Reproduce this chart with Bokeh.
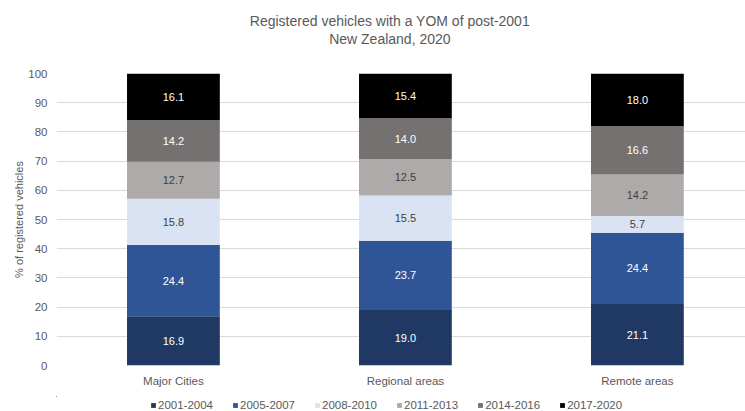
from bokeh.plotting import figure
from bokeh.models import (ColumnDataSource, Range1d, FixedTicker, Legend, LegendItem, Label)
from bokeh.layouts import column
from bokeh.core.properties import value
from bokeh.embed import file_html
from bokeh.resources import INLINE

categories = ["Major Cities", "Regional areas", "Remote areas"]
series_names = ["2001-2004", "2005-2007", "2008-2010", "2011-2013", "2014-2016", "2017-2020"]
s_2001_2004 = [16.9, 19.0, 21.1]
s_2005_2007 = [24.4, 23.7, 24.4]
s_2008_2010 = [15.8, 15.5, 5.7]
s_2011_2013 = [12.7, 12.5, 14.2]
s_2014_2016 = [14.2, 14.0, 16.6]
s_2017_2020 = [16.1, 15.4, 18.0]
y_ticks = [0, 10, 20, 30, 40, 50, 60, 70, 80, 90, 100]
title_line1 = "Registered vehicles with a YOM of post-2001"
title_line2 = "New Zealand, 2020"
y_label = "% of registered vehicles"

series_values = [s_2001_2004, s_2005_2007, s_2008_2010, s_2011_2013, s_2014_2016, s_2017_2020]
colors = ["#1f3864", "#2f5597", "#dae3f3", "#aeaaaa", "#767171", "#000000"]
label_colors = ["#ffffff", "#ffffff", "#404040", "#404040", "#ffffff", "#ffffff"]

FONT = "Liberation Sans"
GREY = "#595959"

xs = list(range(len(categories)))
data = {"x": xs}
for name, vals in zip(series_names, series_values):
    data[name] = vals
source = ColumnDataSource(data)

# ---- main chart ----
p = figure(width=745, height=346, output_backend="svg", toolbar_location=None,
           title=None,
           x_range=Range1d(-0.504, 2.466), y_range=Range1d(0, 100),
           min_border_left=56, min_border_right=0, min_border_top=23, min_border_bottom=31)
p.outline_line_color = None
p.background_fill_color = "white"
p.border_fill_color = "white"

p.vbar_stack(series_names, x="x", width=0.40, source=source,
             color=colors, line_color=None)

# value labels
lx, ly, lt, lc = [], [], [], []
for i in range(len(categories)):
    base = 0.0
    for j, vals in enumerate(series_values):
        v = vals[i]
        lx.append(xs[i])
        ly.append(base + v / 2.0)
        lt.append(f"{v:.1f}")
        lc.append(label_colors[j])
        base += v
lsrc = ColumnDataSource(dict(x=lx, y=ly, text=lt, color=lc))
p.text(x="x", y="y", text="text", source=lsrc, text_color="color",
       text_align="center", text_baseline="middle",
       text_font=value(FONT), text_font_size="11px")

# axes
p.xaxis.ticker = FixedTicker(ticks=xs)
p.xaxis.major_label_overrides = {i: c for i, c in enumerate(categories)}
p.xaxis.axis_line_color = None
p.xaxis.major_tick_line_color = None
p.xaxis.minor_tick_line_color = None
p.xaxis.major_tick_out = 0
p.xaxis.minor_tick_out = 0
p.xaxis.major_label_standoff = 9
p.xaxis.major_label_text_font = FONT
p.xaxis.major_label_text_font_size = "11.5px"
p.xaxis.major_label_text_color = GREY

p.yaxis.ticker = FixedTicker(ticks=y_ticks)
p.yaxis.axis_line_color = None
p.yaxis.major_tick_line_color = None
p.yaxis.minor_tick_line_color = None
p.yaxis.major_tick_out = 0
p.yaxis.minor_tick_out = 0
p.yaxis.major_label_standoff = 9
p.yaxis.major_label_text_font = FONT
p.yaxis.major_label_text_font_size = "11.5px"
p.yaxis.major_label_text_color = GREY
p.yaxis.axis_label = y_label
p.yaxis.axis_label_text_font = FONT
p.yaxis.axis_label_text_font_size = "11px"
p.yaxis.axis_label_text_font_style = "normal"
p.yaxis.axis_label_text_color = GREY
p.yaxis.axis_label_standoff = 0

p.xgrid.grid_line_color = None
p.ygrid.grid_line_color = "#d9d9d9"
p.ygrid.grid_line_width = 1

# ---- title strip ----
p0 = figure(width=745, height=50, output_backend="svg", toolbar_location=None,
            title=None, x_axis_location=None, y_axis_location=None,
            x_range=p.x_range, y_range=Range1d(0, 50),
            min_border_left=0, min_border_right=0, min_border_top=0, min_border_bottom=0)
p0.outline_line_color = None
p0.xgrid.visible = False
p0.ygrid.visible = False
p0.background_fill_color = "white"
p0.border_fill_color = "white"
p0.add_layout(Label(x=0.933, y=30, text=title_line1, text_align="center",
                    text_baseline="middle", text_font=FONT, text_font_size="14px",
                    text_color=GREY))
p0.add_layout(Label(x=0.933, y=12, text=title_line2, text_align="center",
                    text_baseline="middle", text_font=FONT, text_font_size="14px",
                    text_color=GREY))

# ---- legend strip (zero-width stacked bars kept out of view; only the legend shows) ----
p2 = figure(width=745, height=15, output_backend="svg", toolbar_location=None,
            title=None, x_axis_location=None, y_axis_location=None,
            x_range=Range1d(10, 11), y_range=Range1d(-2, -1),
            min_border_left=0, min_border_right=0, min_border_top=0, min_border_bottom=0)
p2.outline_line_color = None
p2.xgrid.visible = False
p2.ygrid.visible = False
p2.background_fill_color = "white"
p2.border_fill_color = "white"
leg_renderers = p2.vbar_stack(series_names, x="x", width=0, source=source,
                              color=colors, line_color=None)
items = [LegendItem(label=n, renderers=[r]) for n, r in zip(series_names, leg_renderers)]
legend = Legend(items=items, orientation="horizontal", location=(94, 0),
                glyph_width=6, glyph_height=6, label_standoff=2, spacing=19,
                padding=0, margin=0, border_line_color=None,
                background_fill_alpha=0, label_text_font=FONT,
                label_text_font_size="11.5px", label_text_color=GREY,
                label_height=12)
p2.add_layout(legend, "center")

layout = column(p0, p, p2, spacing=0)
open("out.html", "w").write(file_html(layout, INLINE))
